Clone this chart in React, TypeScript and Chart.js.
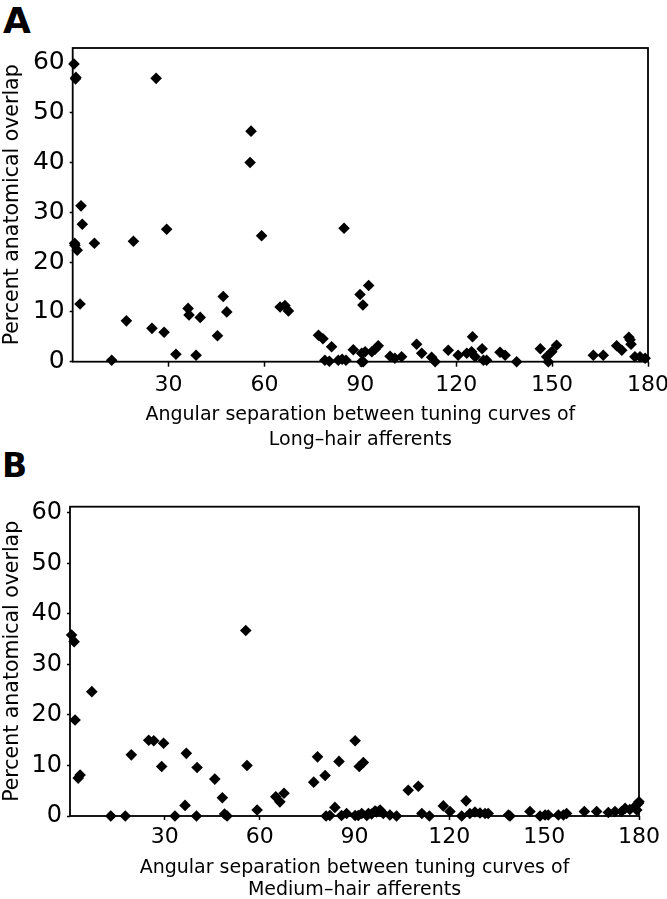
import React, { useEffect, useRef } from "react";
import { Chart, registerables } from "chart.js";

Chart.register(...registerables);

const FONT = "'DejaVu Sans', 'Liberation Sans', sans-serif";

// Panel A: Long-hair afferents
const longHairX = [
  0.4, 1.0, 0.9, 26.1, 55.8, 55.5, 2.6, 3.0, 0.7, 1.4, 0.6, 6.8, 2.3, 19.0, 29.4, 59.1,
  16.8, 24.8, 28.6, 32.3, 12.2, 36.1, 36.4, 39.9, 38.6, 45.3, 47.1, 48.2, 64.9, 66.4, 67.5,
  76.9, 78.3, 81.0, 84.9, 89.9, 92.6, 90.8, 78.9, 80.3, 83.1, 85.5, 90.4, 90.9, 87.8, 84.3,
  90.4, 91.5, 93.6, 94.6, 95.6, 99.3, 100.8, 102.9, 107.6, 109.2, 112.3, 113.4, 117.5, 120.6,
  123.3, 124.8, 125.1, 125.9, 128.1, 128.5, 129.5, 133.7, 135.3, 138.9, 146.3, 148.3, 148.8,
  149.9, 151.4, 162.9, 166.0, 170.2, 171.8, 174.0, 174.4, 174.7, 175.9, 177.5, 179.1,
];
const longHairY = [
  59.8, 57.1, 56.8, 56.9, 46.3, 40.0, 31.3, 27.6, 23.4, 22.4, 23.8, 23.8, 11.6, 24.2, 26.6, 25.3,
  8.2, 6.7, 5.9, 1.5, 0.3, 10.7, 9.4, 8.9, 1.3, 5.2, 13.1, 10.0, 11.0, 11.3, 10.2,
  5.3, 4.6, 3.0, 26.8, 13.5, 15.3, 11.4, 0.3, 0.1, 0.3, 0.3, 0.0, 0.0, 2.4, 0.5,
  1.7, 2.0, 2.0, 2.5, 3.2, 1.1, 0.7, 1.0, 3.5, 1.7, 0.9, 0.0, 2.3, 1.3,
  1.7, 2.0, 5.0, 1.0, 2.6, 0.3, 0.3, 1.9, 1.3, 0.0, 2.6, 1.0, 0.0,
  2.0, 3.3, 1.3, 1.3, 3.2, 2.3, 4.9, 4.4, 3.5, 1.0, 1.0, 0.7,
];

// Panel B: Medium-hair afferents
const mediumHairX = [
  0.5, 1.3, 1.6, 3.2, 2.6, 6.9, 12.9, 17.5, 19.4, 24.9, 26.5, 29.6, 29.0, 33.2, 36.4, 36.8,
  40.2, 40.0, 45.8, 48.2, 48.9, 49.7, 56.0, 59.2, 65.1, 66.4, 67.7, 78.3, 77.1, 80.7, 85.1,
  90.2, 91.5, 92.8, 55.6, 81.0, 82.2, 83.8, 85.9, 87.5, 90.2, 91.2, 92.3, 93.9, 94.4, 95.4,
  96.5, 97.0, 98.1, 99.1, 101.2, 103.3, 107.0, 110.2, 111.3, 113.7, 118.1, 120.2, 123.9, 125.3,
  126.5, 128.1, 129.7, 131.3, 132.3, 138.7, 139.2, 145.5, 148.7, 150.3, 151.3, 154.5, 156.1,
  157.1, 162.7, 166.6, 170.3, 172.4, 174.5, 175.6, 177.1, 178.6, 179.8, 180.0, 179.3,
];
const mediumHairY = [
  35.8, 34.5, 19.0, 8.1, 7.5, 24.6, 0.0, 0.0, 12.1, 15.0, 14.9, 14.4, 9.8, 0.0, 2.1, 12.4,
  9.6, 0.0, 7.3, 3.6, 0.4, 0.0, 10.0, 1.2, 3.8, 2.8, 4.5, 11.7, 6.7, 8.0, 10.8,
  14.9, 9.8, 10.6, 36.7, 0.0, 0.1, 1.7, 0.1, 0.5, 0.1, 0.1, 0.5, 0.1, 0.5, 0.4,
  1.0, 0.8, 1.2, 0.5, 0.2, 0.0, 5.1, 5.9, 0.5, 0.0, 2.0, 0.9, 0.0, 3.0,
  0.5, 0.8, 0.6, 0.5, 0.5, 0.2, 0.0, 0.9, 0.0, 0.2, 0.2, 0.2, 0.2,
  0.5, 0.9, 0.9, 0.7, 0.9, 0.9, 1.5, 1.3, 1.8, 2.5, 2.8, 1.2,
];

const xTickValues = [30, 60, 90, 120, 150, 180];
const yTickValues = [0, 10, 20, 30, 40, 50, 60];
const yAxisTitle = "Percent anatomical overlap";
const longTitle = ["Angular separation between tuning curves of", "Long\u2013hair afferents"];
const mediumTitle = ["Angular separation between tuning curves of", "Medium\u2013hair afferents"];

const framePlugin = {
  id: "frame",
  beforeDatasetsDraw(chart: any) {
    const { ctx, chartArea } = chart;
    ctx.save();
    ctx.strokeStyle = "#000";
    ctx.lineWidth = 1.8;
    ctx.strokeRect(chartArea.left, chartArea.top, chartArea.right - chartArea.left, chartArea.bottom - chartArea.top);
    ctx.restore();
  },
};

type PanelCfg = {
  xs: number[];
  ys: number[];
  title: string[];
  width: number;
  height: number;
  yMax: number;
  yW: number;
  xH: number;
  padTop: number;
  padRight: number;
  xTickLen: number;
  xTickPad: number;
  xTickSize: number;
  yTickSize: number;
  titleLineHeight: number;
  titlePadBottom: number;
};

function makeConfig(c: PanelCfg): any {
  return {
    type: "scatter",
    data: {
      datasets: [
        {
          data: c.xs.map((x, i) => ({ x, y: c.ys[i] })),
          pointStyle: "rectRot",
          pointRadius: 5.8,
          pointHoverRadius: 5.8,
          backgroundColor: "#000",
          borderColor: "#000",
          borderWidth: 0,
          clip: false,
        },
      ],
    },
    options: {
      responsive: false,
      animation: false,
      events: [],
      layout: { padding: { top: c.padTop, right: c.padRight, left: 0, bottom: 0 } },
      plugins: { legend: { display: false }, tooltip: { enabled: false } },
      scales: {
        x: {
          type: "linear",
          min: 0,
          max: 180,
          afterBuildTicks: (s: any) => {
            s.ticks = xTickValues.map((v) => ({ value: v }));
          },
          afterFit: (s: any) => {
            s.height = c.xH;
            s.paddingLeft = 0;
            s.paddingRight = 0;
          },
          border: { display: false },
          grid: {
            display: true,
            drawOnChartArea: false,
            drawTicks: true,
            tickLength: c.xTickLen,
            tickColor: "#000",
            tickWidth: 1.5,
          },
          ticks: {
            autoSkip: false,
            maxRotation: 0,
            padding: c.xTickPad,
            color: "#000",
            font: { family: FONT, size: c.xTickSize, lineHeight: 1.2 },
          },
          title: {
            display: true,
            text: c.title,
            color: "#000",
            font: { family: FONT, size: 19, lineHeight: c.titleLineHeight },
            padding: { top: 0, bottom: c.titlePadBottom },
          },
        },
        y: {
          type: "linear",
          min: 0,
          max: c.yMax,
          afterBuildTicks: (s: any) => {
            s.ticks = yTickValues.map((v) => ({ value: v }));
          },
          afterFit: (s: any) => {
            s.width = c.yW;
            s.paddingTop = 0;
            s.paddingBottom = 0;
          },
          border: { display: false },
          grid: {
            display: true,
            drawOnChartArea: false,
            drawTicks: true,
            tickLength: 3,
            tickColor: "#000",
            tickWidth: 1.5,
          },
          ticks: {
            autoSkip: false,
            padding: 5,
            color: "#000",
            font: { family: FONT, size: c.yTickSize, lineHeight: 1.2 },
          },
          title: {
            display: true,
            text: yAxisTitle,
            color: "#000",
            font: { family: FONT, size: 20.5, lineHeight: 1.2 },
            padding: { top: 0, bottom: 0 },
          },
        },
      },
    },
    plugins: [framePlugin],
  };
}

function Panel({ cfg, top }: { cfg: PanelCfg; top: number }) {
  const ref = useRef<HTMLCanvasElement | null>(null);
  useEffect(() => {
    if (!ref.current) return;
    const chart = new Chart(ref.current, makeConfig(cfg));
    return () => chart.destroy();
  }, []);
  return (
    <canvas
      ref={ref}
      width={cfg.width}
      height={cfg.height}
      style={{ position: "absolute", left: 0, top, width: cfg.width, height: cfg.height }}
    />
  );
}

const panelA: PanelCfg = {
  xs: longHairX,
  ys: longHairY,
  title: longTitle,
  width: 667,
  height: 455,
  yMax: 63,
  yW: 72.7,
  xH: 93.3,
  padTop: 48,
  padRight: 19,
  xTickLen: 5,
  xTickPad: 5,
  xTickSize: 22,
  yTickSize: 25,
  titleLineHeight: 1.3,
  titlePadBottom: 2.6,
};

const panelB: PanelCfg = {
  xs: mediumHairX,
  ys: mediumHairY,
  title: mediumTitle,
  width: 667,
  height: 444,
  yMax: 61.2,
  yW: 70,
  xH: 83,
  padTop: 51.7,
  padRight: 28,
  xTickLen: 4,
  xTickPad: 4,
  xTickSize: 22,
  yTickSize: 24,
  titleLineHeight: 1.17,
  titlePadBottom: -2.1,
};

export default function App() {
  return (
    <div
      style={{
        position: "absolute",
        left: 0,
        top: 0,
        width: 667,
        height: 899,
        overflow: "hidden",
        background: "#fff",
      }}
    >
      <div
        style={{
          position: "absolute",
          left: 3,
          top: 2.7,
          fontFamily: FONT,
          fontWeight: "bold",
          fontSize: 36,
          lineHeight: "36px",
          color: "#000",
        }}
      >
        A
      </div>
      <div
        style={{
          position: "absolute",
          left: 2,
          top: 449,
          fontFamily: FONT,
          fontWeight: "bold",
          fontSize: 33,
          lineHeight: "33px",
          color: "#000",
        }}
      >
        B
      </div>
      <Panel cfg={panelA} top={0} />
      <Panel cfg={panelB} top={455} />
    </div>
  );
}
